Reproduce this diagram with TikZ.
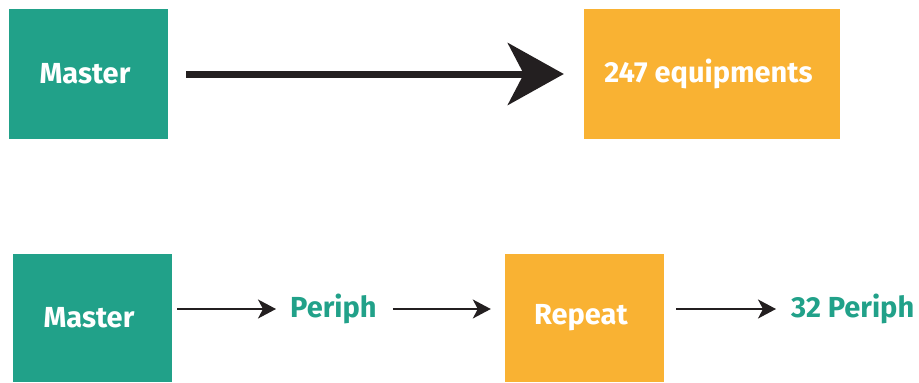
\documentclass[tikz,border=0pt]{standalone}
\usepackage{fontspec}
\setmainfont{Fira Sans}
\usetikzlibrary{arrows.meta}
\definecolor{tealc}{HTML}{21A189}
\definecolor{orangec}{HTML}{F9B233}
\definecolor{inkc}{HTML}{231F20}
\begin{document}
\begin{tikzpicture}[x=1bp,y=-1bp,
  lbl/.style={font=\fontsize{29bp}{32bp}\selectfont\bfseries, inner sep=0pt},
  tealbox/.style={lbl, fill=tealc, text=white},
  orangebox/.style={lbl, fill=orangec, text=white},
  tealtext/.style={lbl, text=tealc},
  bigarrow/.style={draw=inkc, line width=7bp, -{Stealth[length=56bp,width=62bp,inset=16bp]}},
  smallarrow/.style={draw=inkc, line width=1.7bp, -{Stealth[length=18bp,width=19bp,inset=5bp]}}]
\useasboundingbox (0,0) rectangle (919,382);
% top row
\node[tealbox, minimum width=159bp, minimum height=130bp] (m1) at (88.5,74) {\kern-7bp Master};
\node[orangebox, minimum width=256bp, minimum height=130bp] (e1) at (712,74) {\kern-7bp 247 equipments};
\draw[bigarrow, shorten <=18bp, shorten >=20bp] (m1) -- (e1);
% bottom row
\coordinate (row) at (0,309);
\node[tealbox, minimum width=159bp, minimum height=128bp] (m2) at (92.5,318) {\kern-7bp Master};
\node[tealtext, anchor=base west] (p1) at (290,317) {Periph};
\node[orangebox, minimum width=159bp, minimum height=128bp] (r1) at (584.5,318) {\kern-7bp Repeat};
\node[tealtext, anchor=base west] (p2) at (791,317) {32 Periph};
\draw[smallarrow, shorten <=5bp, shorten >=14bp] (m2.east |- row) -- (p1.west |- row);
\draw[smallarrow, shorten <=16bp, shorten >=14bp] (p1.east |- row) -- (r1.west |- row);
\draw[smallarrow, shorten <=12bp, shorten >=15bp] (r1.east |- row) -- (p2.west |- row);
\end{tikzpicture}
\end{document}
